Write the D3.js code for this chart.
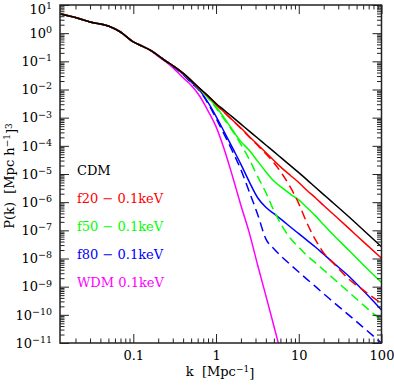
<!DOCTYPE html>
<html><head><meta charset="utf-8">
<script src="https://cdn.jsdelivr.net/npm/d3@7"></script>
<style>
html,body{margin:0;padding:0;background:#fff;}
text{font-family:"DejaVu Serif",serif;}
</style></head>
<body><svg id="c" width="394" height="386"></svg>
<script>
// wavenumber k [Mpc^-1]
const kValues = [0.013,0.02,0.03,0.05,0.07,0.1,0.13,0.16,0.2,0.25,0.3,0.4,0.5,0.63,0.8,1,1.25,1.6,2,2.5,3.2,4,5,6.3,8,10,12.6,16,20,25,40,63,100];
// P(k) values
const cdm = [4.8,3.6,2.5,1.8,1.1,0.49,0.34,0.25,0.16,0.10,0.071,0.038,0.021,0.0112,0.0060,0.0032,1.86e-3,1.02e-3,5.9e-4,3.4e-4,1.86e-4,1.07e-4,6.2e-5,3.5e-5,1.95e-5,1.12e-5,6.2e-6,3.3e-6,1.86e-6,1.05e-6,3.1e-7,9.1e-8,2.6e-8];
const f20Solid = [4.8,3.6,2.5,1.8,1.1,0.49,0.34,0.25,0.16,0.10,0.071,0.038,0.021,0.011,0.0058,0.0030,1.58e-3,7.9e-4,4.3e-4,2.2e-4,1.10e-4,5.8e-5,3.0e-5,1.58e-5,8.7e-6,5.0e-6,2.6e-6,1.41e-6,7.6e-7,4.2e-7,1.2e-7,3.5e-8,1.02e-8];
const f20Dashed = [4.8,3.6,2.5,1.8,1.1,0.49,0.34,0.25,0.16,0.10,0.071,0.038,0.021,0.011,0.0058,2.95e-3,1.55e-3,7.8e-4,4.1e-4,2.1e-4,1.02e-4,5.2e-5,2.5e-5,1.0e-5,3.2e-6,8.9e-7,1.78e-7,4.5e-8,1.58e-8,7.9e-9,1.9e-9,6.8e-10,2.5e-10];
const f50Solid = [4.8,3.6,2.5,1.8,1.1,0.49,0.34,0.25,0.16,0.10,0.071,0.037,0.0204,0.0105,0.0052,0.0025,1.0e-3,3.5e-4,1.41e-4,7.1e-5,2.8e-5,1.2e-5,5.6e-6,3.2e-6,1.9e-6,1.2e-6,6.3e-7,3.2e-7,1.58e-7,7.9e-8,2.0e-8,5.2e-9,1.41e-9];
const f50Dashed = [4.8,3.6,2.5,1.8,1.1,0.49,0.34,0.25,0.16,0.10,0.071,0.037,0.0204,0.0102,0.0050,2.24e-3,8.9e-4,3.2e-4,1.12e-4,3.5e-5,7.9e-6,2.2e-6,5.0e-7,1.41e-7,5.0e-8,2.5e-8,1.26e-8,6.9e-9,3.9e-9,2.2e-9,6.5e-10,2.0e-10,6.3e-11];
const f80Solid = [4.8,3.6,2.5,1.8,1.1,0.49,0.34,0.25,0.16,0.10,0.069,0.035,0.0186,0.0095,0.0035,1.12e-3,3.2e-4,7.9e-5,2.2e-5,5.6e-6,1.41e-6,6.6e-7,3.9e-7,2.3e-7,1.29e-7,7.6e-8,4.4e-8,2.5e-8,1.41e-8,7.9e-9,2.4e-9,6.3e-10,1.48e-10];
const f80Dashed = [4.8,3.6,2.5,1.8,1.1,0.49,0.34,0.25,0.16,0.10,0.068,0.034,0.0174,0.0091,0.0032,9.5e-4,2.6e-4,6.0e-5,1.41e-5,2.5e-6,3.5e-7,5.0e-8,2.2e-8,1.12e-8,5.9e-9,3.3e-9,1.82e-9,1.0e-9,5.6e-10,3.2e-10,1.0e-10,3.2e-11,1.0e-11];
const wdm = [4.8,3.6,2.5,1.8,1.1,0.49,0.34,0.245,0.15,0.093,0.060,0.026,0.0141,0.0060,1.74e-3,4.8e-4,7.9e-5,7.4e-6,7.6e-7,9.0e-8,5.5e-9,4.8e-10,4.0e-11,3.0e-12,null,null,null,null,null,null,null,null,null];

const xMajor = [0.1,1,10,100];
const yMajor = [1e-11,1e-10,1e-9,1e-8,1e-7,1e-6,1e-5,1e-4,1e-3,1e-2,1e-1,1,10];
const legendLabels = ["CDM","f20 \u2212 0.1keV","f50 \u2212 0.1keV","f80 \u2212 0.1keV","WDM 0.1keV"];

const series = [
  {v: cdm, color:"#000000", dash:null},
  {v: f20Solid, color:"#ff0000", dash:null},
  {v: f20Dashed, color:"#ff0000", dash:"9,5"},
  {v: f50Solid, color:"#00ff00", dash:null},
  {v: f50Dashed, color:"#00ff00", dash:"9,5"},
  {v: f80Solid, color:"#0000ff", dash:null},
  {v: f80Dashed, color:"#0000ff", dash:"9,5"},
  {v: wdm, color:"#ff00ff", dash:null}
];
const legendColors = ["#000000","#ff0000","#00ff00","#0000ff","#ff00ff"];

const L=60, R=381.5, T=5, B=343;
const svg = d3.select("#c");
const x = d3.scaleLog().domain([0.013,100]).range([L,R]);
const y = d3.scaleLog().domain([1e-11,10]).range([B,T]);

svg.append("defs").append("clipPath").attr("id","clip")
  .append("rect").attr("x",L).attr("y",T).attr("width",R-L).attr("height",B-T);

const line = d3.line().defined(d=>d[1]!=null).x(d=>x(d[0])).y(d=>y(d[1])).curve(d3.curveMonotoneX);
const plot = svg.append("g").attr("clip-path","url(#clip)");
series.slice().reverse().forEach(s=>{
  plot.append("path").datum(kValues.map((k,i)=>[k,s.v[i]]))
    .attr("d",line).attr("fill","none").attr("stroke",s.color)
    .attr("stroke-width",1.5).attr("stroke-dasharray",s.dash);
});

// minor ticks
const xMinor=[], yMinor=[];
[0.01,0.1,1,10].forEach(d=>{for(let m=2;m<=9;m++){const v=m*d; if(v>=0.013&&v<=100) xMinor.push(v);}});
for(let e=-11;e<1;e++){for(let m=2;m<=9;m++) yMinor.push(m*Math.pow(10,e));}

const tickStyle = g=>{g.select(".domain").remove(); g.selectAll(".tick line").attr("stroke","#222").attr("stroke-width",1);
  g.selectAll("text").attr("font-family","DejaVu Serif").attr("font-size",13).attr("fill","#000");};

// bottom
svg.append("g").attr("transform",`translate(0,${B})`)
  .call(d3.axisBottom(x).tickValues(xMajor).tickSize(-9).tickPadding(8).tickFormat(d3.format("~g"))).call(tickStyle);
svg.append("g").attr("transform",`translate(0,${B})`)
  .call(d3.axisBottom(x).tickValues(xMinor).tickSize(-4.5).tickFormat("")).call(tickStyle);
// top
svg.append("g").attr("transform",`translate(0,${T})`)
  .call(d3.axisTop(x).tickValues(xMajor).tickSize(-9).tickFormat("")).call(tickStyle);
svg.append("g").attr("transform",`translate(0,${T})`)
  .call(d3.axisTop(x).tickValues(xMinor).tickSize(-4.5).tickFormat("")).call(tickStyle);
// left
const ly = svg.append("g").attr("transform",`translate(${L},0)`)
  .call(d3.axisLeft(y).tickValues(yMajor).tickSize(-9).tickPadding(8).tickFormat(()=>"10")).call(tickStyle);
ly.selectAll(".tick text").each(function(d){
  const e = Math.round(Math.log10(d));
  const t = d3.select(this);
  if (e === 1) t.attr("dy","0.62em");
  t.append("tspan").attr("dy","-0.5em").attr("font-size",9.5)
    .text(e<0 ? "\u2212"+(-e) : String(e));
});
svg.append("g").attr("transform",`translate(${L},0)`)
  .call(d3.axisLeft(y).tickValues(yMinor).tickSize(-4.5).tickFormat("")).call(tickStyle);
// right
svg.append("g").attr("transform",`translate(${R},0)`)
  .call(d3.axisRight(y).tickValues(yMajor).tickSize(-9).tickFormat("")).call(tickStyle);
svg.append("g").attr("transform",`translate(${R},0)`)
  .call(d3.axisRight(y).tickValues(yMinor).tickSize(-4.5).tickFormat("")).call(tickStyle);

// frame
svg.append("rect").attr("x",L).attr("y",T).attr("width",R-L).attr("height",B-T)
  .attr("fill","none").attr("stroke","#222").attr("stroke-width",1.5);

// legend
legendLabels.forEach((t,i)=>{
  svg.append("text").attr("x",77).attr("y",175+i*28).attr("font-size",13)
    .attr("fill",legendColors[i]).style("white-space","pre").text(t);
});

// axis titles
const xt = svg.append("text").attr("x",220).attr("y",376).attr("text-anchor","middle").attr("font-size",13).style("white-space","pre");
xt.append("tspan").text("k  [Mpc");
xt.append("tspan").attr("dy","-0.5em").attr("font-size",9).text("\u22121");
xt.append("tspan").attr("dy","0.5em").text("]");

const yt = svg.append("text").attr("transform","translate(14,176) rotate(-90)").attr("text-anchor","middle").attr("font-size",13).style("white-space","pre");
yt.append("tspan").text("P(k)  [Mpc h");
yt.append("tspan").attr("dy","-0.5em").attr("font-size",9).text("\u22121");
yt.append("tspan").attr("dy","0.5em").text("]");
yt.append("tspan").attr("dy","-0.5em").attr("font-size",9).text("3");
</script></body></html>
